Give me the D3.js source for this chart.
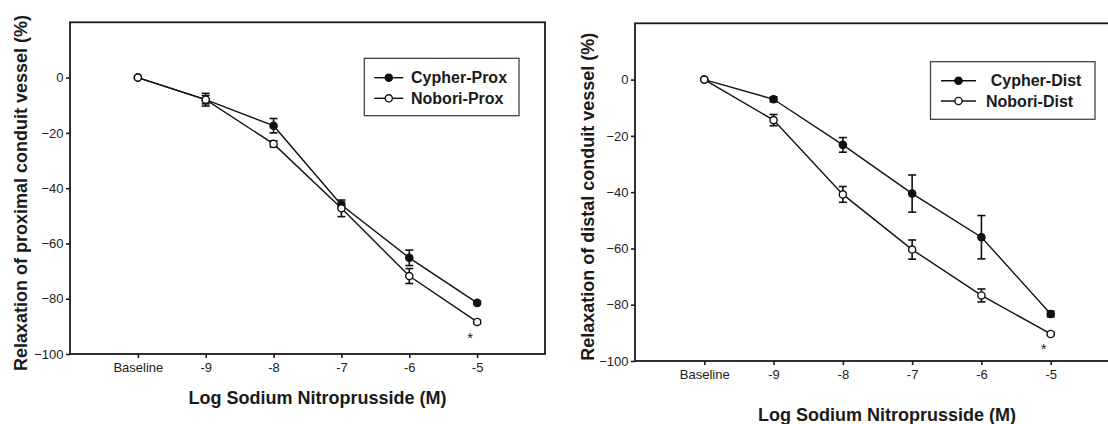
<!DOCTYPE html>
<html>
<head>
<meta charset="utf-8">
<script src="https://cdn.jsdelivr.net/npm/d3@7.9.0/dist/d3.min.js"></script>
<style>
  body { margin: 0; background: #fff; }
  svg { display: block; font-family: "Liberation Sans", Arial, sans-serif; }
</style>
</head>
<body>
<svg id="chart" width="1108" height="424"></svg>
<script>
// dose categories along the x axis
const doses = ["Baseline", "-9", "-8", "-7", "-6", "-5"];
const yTicks = [0, -20, -40, -60, -80, -100];

// proximal segment (mean, sem)
const cypherProx = [0, -8, -17.4, -46.1, -65.2, -81.5];
const cypherProxSem = [0, 1.5, 2.6, 1, 2.8, 0.6];
const noboriProx = [0, -8, -24.0, -47.3, -71.8, -88.4];
const noboriProxSem = [0, 2.3, 1.1, 3, 2.7, 0.7];

// distal segment (mean, sem)
const cypherDist = [0, -7.0, -23.2, -40.5, -56.0, -83.3];
const cypherDistSem = [0, 0.9, 2.6, 6.6, 7.7, 1];
const noboriDist = [0, -14.4, -40.8, -60.4, -76.7, -90.4];
const noboriDistSem = [0, 2, 2.8, 3.4, 2.3, 0.6];

// significance marker value (star under the -5 point)
const starProx = -92.8;
const starDist = -94.4;

const svg = d3.select("#chart");

function drawPanel(p) {
  const x = d3.scaleLinear().domain([-1, 6]).range([p.left, p.right]);
  const y = d3.scaleLinear().domain([-100, 20]).range([p.bottom, p.top]);
  const g = svg.append("g");

  // frame
  g.append("rect")
    .attr("x", p.left).attr("y", p.top)
    .attr("width", p.right - p.left).attr("height", p.bottom - p.top)
    .attr("fill", "none").attr("stroke", "#1a1a1a").attr("stroke-width", 1.8);

  // axes
  const yAxis = g.append("g")
    .attr("transform", `translate(${p.left},0)`)
    .call(d3.axisLeft(y).tickValues(yTicks).tickSize(4).tickPadding(2.5));
  const xAxis = g.append("g")
    .attr("transform", `translate(0,${p.bottom})`)
    .call(d3.axisBottom(x).tickValues(d3.range(doses.length))
      .tickFormat((i) => doses[i]).tickSize(4).tickPadding(5));
  [yAxis, xAxis].forEach((a) => {
    a.select(".domain").remove();
    a.selectAll("line").attr("stroke", "#1a1a1a").attr("stroke-width", 1.6);
    a.selectAll("text").attr("fill", "#222").style("font-size", "13px");
  });

  // axis titles
  g.append("text")
    .attr("x", p.xTitle[0]).attr("y", p.xTitle[1]).attr("dy", "0.35em")
    .attr("text-anchor", "middle").attr("font-weight", "bold")
    .attr("font-size", 18).attr("fill", "#1a1a1a")
    .text("Log Sodium Nitroprusside (M)");
  g.append("text")
    .attr("transform", `translate(${p.yTitle[0]},${p.yTitle[1]}) rotate(-90)`)
    .attr("dy", "0.35em")
    .attr("text-anchor", "middle").attr("font-weight", "bold")
    .attr("font-size", 18).attr("fill", "#1a1a1a")
    .text(p.yLabel);

  const line = d3.line().x((d, i) => x(i)).y((d) => y(d));

  p.series.forEach((s) => {
    g.append("path").datum(s.values)
      .attr("d", line).attr("fill", "none")
      .attr("stroke", "#111").attr("stroke-width", 1.4);
  });

  // error bars
  p.series.forEach((s) => {
    s.values.forEach((v, i) => {
      const e = s.sem[i];
      if (!e) return;
      const cx = x(i);
      const bar = g.append("g").attr("stroke", "#111").attr("stroke-width", 1.6);
      bar.append("line").attr("x1", cx).attr("x2", cx).attr("y1", y(v + e)).attr("y2", y(v - e));
      [v + e, v - e].forEach((c) => {
        bar.append("line").attr("x1", cx - 4).attr("x2", cx + 4).attr("y1", y(c)).attr("y2", y(c));
      });
    });
  });

  // markers, open circles on top
  p.series.forEach((s) => {
    g.selectAll(null).data(s.values).join("circle")
      .attr("cx", (d, i) => x(i)).attr("cy", (d) => y(d)).attr("r", 3.6)
      .attr("fill", s.filled ? "#111" : "#fff")
      .attr("stroke", "#111").attr("stroke-width", 1.4);
  });

  g.append("text")
    .attr("x", x(5) - 7).attr("y", y(p.star)).attr("dy", "0.6em")
    .attr("text-anchor", "middle").attr("font-size", 15).attr("fill", "#222")
    .text("*");

  // legend
  const L = p.legend;
  g.append("rect")
    .attr("x", L.x0).attr("y", L.y0).attr("width", L.x1 - L.x0).attr("height", L.y1 - L.y0)
    .attr("fill", "#fff").attr("stroke", "#444").attr("stroke-width", 1.3);
  p.series.forEach((s, k) => {
    const ly = L.rows[k];
    g.append("line").attr("x1", L.lineX[0]).attr("x2", L.lineX[1])
      .attr("y1", ly).attr("y2", ly).attr("stroke", "#111").attr("stroke-width", 1.4);
    g.append("circle").attr("cx", (L.lineX[0] + L.lineX[1]) / 2).attr("cy", ly).attr("r", 3.6)
      .attr("fill", s.filled ? "#111" : "#fff").attr("stroke", "#111").attr("stroke-width", 1.4);
    g.append("text").attr("x", L.textX[k]).attr("y", ly).attr("dy", "0.36em")
      .attr("font-weight", "bold").attr("font-size", 16).attr("fill", "#1a1a1a")
      .text(s.name);
  });
}

drawPanel({
  left: 70, right: 545, top: 22.3, bottom: 354,
  xTitle: [317.5, 397.5], yTitle: [21, 193],
  yLabel: "Relaxation of proximal conduit vessel (%)",
  star: starProx,
  series: [
    { name: "Cypher-Prox", values: cypherProx, sem: cypherProxSem, filled: true },
    { name: "Nobori-Prox", values: noboriProx, sem: noboriProxSem, filled: false }
  ],
  legend: { x0: 364.3, x1: 519, y0: 58.3, y1: 115.7, rows: [77.7, 98.3],
    lineX: [374.3, 403.3], textX: [411, 411] }
});

drawPanel({
  left: 635, right: 1120, top: 23.3, bottom: 361,
  xTitle: [887, 415], yTitle: [588, 196.7],
  yLabel: "Relaxation of distal conduit vessel (%)",
  star: starDist,
  series: [
    { name: "Cypher-Dist", values: cypherDist, sem: cypherDistSem, filled: true },
    { name: "Nobori-Dist", values: noboriDist, sem: noboriDistSem, filled: false }
  ],
  legend: { x0: 930.5, x1: 1095, y0: 61.7, y1: 119.3, rows: [80.7, 101],
    lineX: [941, 976], textX: [990.7, 986] }
});
</script>
</body>
</html>
